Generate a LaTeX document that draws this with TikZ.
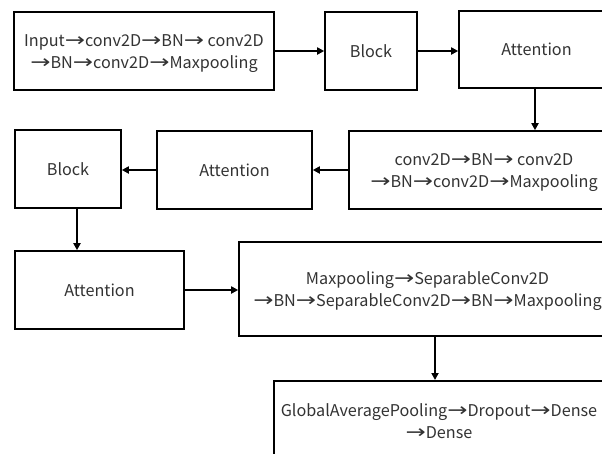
\documentclass[tikz,border=0pt]{standalone}
\usepackage{fontspec}
\usepackage{graphicx}
\setmainfont{Noto Sans CJK SC}
\newfontfamily\arrfont{DejaVu Sans}
\newcommand{\ra}{{\arrfont\fontsize{17}{22}\selectfont\scalebox{1.42}[1.1]{→}}}
\usetikzlibrary{arrows.meta}
\begin{document}
\begin{tikzpicture}[x=1pt,y=-1pt,
  box/.style={draw=black,line width=1.6pt,rectangle,inner sep=0pt,align=center,
    text=black!80,font=\fontsize{16.2}{22}\selectfont},
  lbl/.style={text=black!80,font=\fontsize{16.2}{22}\selectfont,align=center,inner sep=0pt},
  arr/.style={line width=1.8pt,-{Triangle[length=7pt,width=7pt]}}]
\useasboundingbox (0,0) rectangle (602,453);
\clip (0,0) rectangle (602,453);
\fill[white] (0,0) rectangle (602,453);
\node[box,minimum width=260pt,minimum height=78pt] (A) at (144,51) {};
\node[lbl] (At) at (144,53.5) {Input\ra conv2D\ra BN\ra\ conv2D\\\ra BN\ra conv2D\ra Maxpooling};
\node[box,minimum width=92pt,minimum height=78pt] (B) at (371,51) {Block};
\node[box,minimum width=155pt,minimum height=77pt] (C) at (536.5,49.5) {Attention};
\node[box,minimum width=270pt,minimum height=78pt] (D) at (484,170) {};
\node[lbl] (Dt) at (484,172.5) {conv2D\ra BN\ra\ conv2D\\\ra BN\ra conv2D\ra Maxpooling};
\node[box,minimum width=155pt,minimum height=78pt] (E) at (234.5,170) {Attention};
\node[box,minimum width=106pt,minimum height=78pt] (F) at (68,169) {Block};
\node[box,minimum width=169pt,minimum height=78pt] (G) at (99.5,290) {Attention};
\node[box,minimum width=378pt,minimum height=94pt] (H) at (428,289) {};
\node[lbl] (Ht) at (427.5,291) {Maxpooling\ra SeparableConv2D\\\ra BN\ra SeparableConv2D\ra BN\ra Maxpooling};
\node[box,minimum width=332pt,minimum height=90pt,anchor=north west] (I) at (273,380) {};
\node[lbl] (It) at (439,421) {GlobalAveragePooling\ra Dropout\ra Dense\\\ra Dense};
\draw[arr] (A.east) -- (B.west);
\draw[arr] (B.east) -- (B.east -| C.west);
\draw[arr] ([xshift=-1.5pt]C.south) -- ([xshift=-1.5pt]C.south |- D.north);
\draw[arr] (D.west) -- (D.west -| E.east);
\draw[arr] (E.west) -- (E.west -| F.east);
\draw[arr] ([xshift=9pt]F.south) -- ([xshift=9pt]F.south |- G.north);
\draw[arr] (G.east) -- (G.east -| H.west);
\draw[arr] ([xshift=7pt]H.south) -- ([xshift=7pt]H.south |- I.north);
\end{tikzpicture}
\end{document}
